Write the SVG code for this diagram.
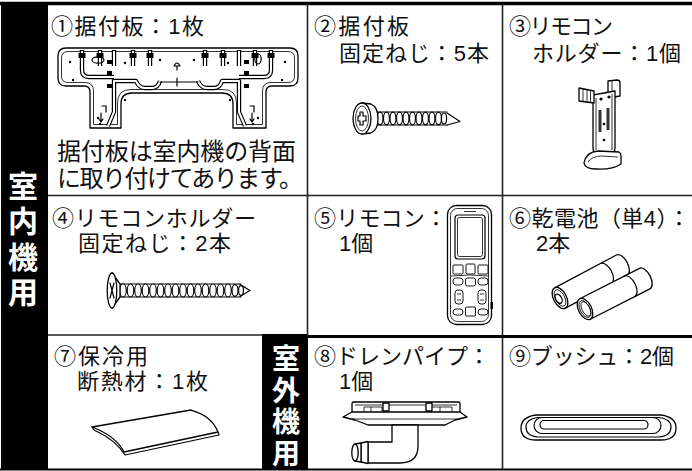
<svg xmlns="http://www.w3.org/2000/svg" width="692" height="471" viewBox="0 0 692 471">
<defs>
<style>
.t{font-family:"Liberation Sans","Noto Sans CJK JP","Noto Sans CJK SC",sans-serif;font-size:22px;fill:#111}
.b{font-size:24px}
.w{font-family:"Liberation Sans","Noto Sans CJK JP","Noto Sans CJK SC",sans-serif;fill:#fff;font-weight:bold;text-anchor:middle}
.ln{fill:none;stroke:#000;stroke-width:1.2;stroke-linejoin:round;stroke-linecap:round}
.wf{fill:#fff;stroke:#000;stroke-width:1.3;stroke-linejoin:round}
.th{fill:none;stroke:#000;stroke-width:0.8}
.btn{fill:#fff;stroke:#000;stroke-width:0.9}
.tubeA{fill:none;stroke:#000;stroke-width:4.4;stroke-linejoin:round}
.tubeB{fill:none;stroke:#fff;stroke-width:2;stroke-linejoin:round}
.grid{stroke:#222;stroke-width:1.6;fill:none}
</style>
</defs>
<rect x="0" y="0" width="692" height="471" fill="#fff"/>

<g id="connectors">
<rect x="1" y="2" width="47" height="467" fill="#000"/>
<rect x="262" y="334" width="46" height="135" fill="#000"/>
<line x1="0" y1="3.5" x2="692" y2="3.5" stroke="#000" stroke-width="3.5"/>
<line x1="0" y1="469.5" x2="692" y2="469.5" stroke="#000" stroke-width="1.8"/>
<line class="grid" x1="307.5" y1="4" x2="307.5" y2="336"/>
<line class="grid" x1="502.5" y1="4" x2="502.5" y2="469"/>
<line class="grid" x1="48" y1="195.5" x2="692" y2="195.5"/>
<line class="grid" x1="48" y1="335" x2="262" y2="335"/>
<line x1="308" y1="336.5" x2="692" y2="336.5" stroke="#000" stroke-width="3"/>
</g>

<g id="label-indoor">
<text class="w" font-size="30"><tspan x="23" y="197">室</tspan><tspan x="23" y="232">内</tspan><tspan x="23" y="268">機</tspan><tspan x="23" y="303">用</tspan></text>
</g>
<g id="label-outdoor">
<text class="w" font-size="28"><tspan x="286" y="369">室</tspan><tspan x="286" y="400.5">外</tspan><tspan x="286" y="432">機</tspan><tspan x="286" y="463.5">用</tspan></text>
</g>

<g id="item1">
<text class="t" x="51" y="34" textLength="153" lengthAdjust="spacing">①据付板：1枚</text>
<text class="t b"><tspan x="57" y="160" textLength="239" lengthAdjust="spacing">据付板は室内機の背面</tspan><tspan x="57" y="187" textLength="246" lengthAdjust="spacing">に取り付けてあります。</tspan></text>
<path class="wf" stroke-width="2.2" d="M66 48 L290 48 Q298 48 298 56 L298 78 Q298 86 290 86 L272 86 Q266 86 266 92 L266 128 L233 128 L233 104 Q233 93 222 93 L132 93 Q121 93 121 104 L121 128 L90 128 L90 92 Q90 86 84 86 L66 86 Q58 86 58 78 L58 56 Q58 48 66 48 Z"/>
<path class="th" d="M68 51.5 L288 51.5 Q294.5 51.5 294.5 58 L294.5 76 Q294.5 82.5 288 82.5 L271 82.5 Q262.5 82.5 262.5 91 L262.5 124.5 L236.5 124.5 L236.5 103 Q236.5 89.5 223 89.5 L131 89.5 Q117.5 89.5 117.5 103 L117.5 124.5 L93.5 124.5 L93.5 91 Q93.5 82.5 85 82.5 L68 82.5 Q61.5 82.5 61.5 76 L61.5 58 Q61.5 51.5 68 51.5 Z"/>
<g>
<path class="tubeA" d="M108 126 L114 112 L114 81 L136 81 Q139 88 145 88 L152 88 Q158 88 160 81 M198 81 Q201 88 207 88 L214 88 Q220 88 222 81 L239 81 L239 112 L245 126"/>
<path class="tubeA" d="M82 50 L82 70 Q82 77 89 77 L114 77 M271 50 L271 70 Q271 77 264 77 L239 77"/>
<path class="tubeA" d="M100 50 L100 66 M133 50 L133 66 M150 50 L150 66 M205 50 L205 66 M223 50 L223 66 M255 50 L255 66 M114 50 L114 66 M239 50 L239 66"/>
<path class="tubeB" d="M108 126 L114 112 L114 81 L136 81 Q139 88 145 88 L152 88 Q158 88 160 81 M198 81 Q201 88 207 88 L214 88 Q220 88 222 81 L239 81 L239 112 L245 126"/>
<path class="tubeB" d="M82 51 L82 70 Q82 77 89 77 L114 77 M271 51 L271 70 Q271 77 264 77 L239 77"/>
<path class="tubeB" d="M100 51 L100 66 M133 51 L133 66 M150 51 L150 66 M205 51 L205 66 M223 51 L223 66 M255 51 L255 66 M114 51 L114 66 M239 51 L239 66"/>
<line class="ln" x1="160" y1="82" x2="198" y2="82" stroke-width="1.4"/>
<line class="ln" x1="177" y1="78" x2="177" y2="86" stroke-width="1.4"/>
<g fill="#000">
<rect x="78.5" y="53" width="7" height="5"/><rect x="96.5" y="53" width="7" height="5"/><rect x="129.5" y="53" width="7" height="5"/><rect x="146.5" y="53" width="7" height="5"/>
<rect x="201.5" y="53" width="7" height="5"/><rect x="219.5" y="53" width="7" height="5"/><rect x="251.5" y="53" width="7" height="5"/><rect x="267.5" y="53" width="7" height="5"/>
<rect x="107" y="60" width="5" height="4"/><rect x="107" y="71" width="5" height="4"/><rect x="107" y="84" width="5" height="4"/>
<rect x="244" y="60" width="5" height="4"/><rect x="244" y="71" width="5" height="4"/><rect x="244" y="84" width="5" height="4"/>
<circle cx="70" cy="62" r="1.2"/><circle cx="73" cy="80" r="1.2"/><circle cx="125" cy="63" r="1.2"/><circle cx="160" cy="60" r="1.2"/>
<circle cx="194" cy="60" r="1.2"/><circle cx="228" cy="63" r="1.2"/><circle cx="285" cy="62" r="1.2"/><circle cx="282" cy="80" r="1.2"/>
<circle cx="98" cy="118" r="1.2"/><circle cx="100" cy="124" r="1.2"/><circle cx="258" cy="118" r="1.2"/><circle cx="253" cy="124" r="1.2"/>
<circle cx="125" cy="100" r="1.2"/><circle cx="230" cy="100" r="1.2"/>
</g>
<ellipse class="ln" cx="98" cy="60" rx="6" ry="3.2"/>
<ellipse class="ln" cx="258" cy="59" rx="3.2" ry="5"/>
<path class="ln" d="M174 66 Q177 60 180 66 Z M177 66 L177 70"/>
<path class="ln" d="M102 106 L106 106 L106 112 M101 113 L101 122 M99 119 L101 122 L103 119"/>
<path class="ln" d="M250 106 L254 106 L254 112 M252 113 L252 122 M250 119 L252 122 L254 119"/>
</g>
</g>

<g id="item2">
<text class="t"><tspan x="314" y="34" textLength="95" lengthAdjust="spacing">②据付板</tspan><tspan x="339" y="61" textLength="150" lengthAdjust="spacing">固定ねじ：5本</tspan></text>
<path class="ln" d="M447 113 L460 121.5 L447 125"/>
<g class="ln" stroke-width="1">
<path d="M376 112 L447 112 M376 125 L447 125"/>
<ellipse cx="380" cy="118.5" rx="3" ry="6.3" fill="#fff"/>
<ellipse cx="386.5" cy="118.5" rx="3" ry="6.3" fill="#fff"/>
<ellipse cx="393" cy="118.5" rx="3" ry="6.3" fill="#fff"/>
<ellipse cx="399.5" cy="118.5" rx="3" ry="6.3" fill="#fff"/>
<ellipse cx="406" cy="118.5" rx="3" ry="6.3" fill="#fff"/>
<ellipse cx="412.5" cy="118.5" rx="3" ry="6.3" fill="#fff"/>
<ellipse cx="419" cy="118.5" rx="3" ry="6.3" fill="#fff"/>
<ellipse cx="425.5" cy="118.5" rx="3" ry="6.3" fill="#fff"/>
<ellipse cx="432" cy="118.5" rx="3" ry="6.3" fill="#fff"/>
<ellipse cx="438.5" cy="118.5" rx="3" ry="6.3" fill="#fff"/>
<ellipse cx="444" cy="118.5" rx="2.6" ry="5.5" fill="#fff"/>
</g>
<path class="wf" d="M362 103 L371 104 Q378 107 378 118.5 Q378 130 371 133 L362 134 Z"/>
<ellipse class="wf" cx="362" cy="118.5" rx="9" ry="15.5"/>
<ellipse class="th" cx="362" cy="118.5" rx="6.5" ry="12.5"/>
<path class="ln" stroke-width="1" d="M360 112 L363 112 L363 116 L366 116 L366 121 L363 121 L363 125 L360 125 L360 121 L358 121 L358 116 L360 116 Z"/>
</g>

<g id="item3">
<text class="t"><tspan x="509" y="34" textLength="104" lengthAdjust="spacing">③リモコン</tspan><tspan x="532" y="61" textLength="149" lengthAdjust="spacing">ホルダー：1個</tspan></text>
<path class="wf" d="M608 81 L617 80 Q620 80 620 83 L620 96 L608 98 Z"/>
<line class="th" x1="612" y1="81" x2="612" y2="97"/>
<path class="wf" d="M593 95 L615 91 L615 148 Q615 154 609 154 L599 154 Q593 154 593 148 Z"/>
<path class="th" d="M596 98 L596 150 M612 94 L612 150"/>
<path class="wf" d="M579 88 L594 91 L594 103 L579 101 Z"/>
<path class="th" d="M583 89 L583 101.5 M587 90 L587 102 M590.5 90.5 L590.5 102.5"/>
<rect x="598.5" y="110" width="3" height="22" fill="#333"/>
<rect x="606.5" y="108" width="3" height="22" fill="#333"/>
<circle cx="601" cy="99" r="1.6" fill="#000"/><circle cx="609" cy="97" r="1.6" fill="#000"/>
<circle cx="604" cy="124" r="1.3" fill="#000"/><circle cx="604" cy="140" r="1.3" fill="#000"/>
<path class="wf" d="M584 163 Q586 152 598 151 L619 152 Q621 153 621 156 L621 164 Q612 170 596 169 Q585 169 584 163 Z"/>
<path class="th" d="M588 162 Q592 156 602 156 L618 157"/>
</g>

<g id="item4">
<text class="t"><tspan x="52" y="226" textLength="204" lengthAdjust="spacing">④リモコンホルダー</tspan><tspan x="78" y="251" textLength="153" lengthAdjust="spacing">固定ねじ：2本</tspan></text>
<path class="ln" d="M240 284.5 L250 290.5 L240 296.5"/>
<g class="ln" stroke-width="1">
<path d="M120 284 L241 284 M120 297 L241 297"/>
<ellipse cx="123" cy="290.5" rx="3.3" ry="6.5" fill="#fff"/>
<ellipse cx="130.5" cy="290.5" rx="3.3" ry="6.5" fill="#fff"/>
<ellipse cx="138" cy="290.5" rx="3.3" ry="6.5" fill="#fff"/>
<ellipse cx="145.5" cy="290.5" rx="3.3" ry="6.5" fill="#fff"/>
<ellipse cx="153" cy="290.5" rx="3.3" ry="6.5" fill="#fff"/>
<ellipse cx="160.5" cy="290.5" rx="3.3" ry="6.5" fill="#fff"/>
<ellipse cx="168" cy="290.5" rx="3.3" ry="6.5" fill="#fff"/>
<ellipse cx="175.5" cy="290.5" rx="3.3" ry="6.5" fill="#fff"/>
<ellipse cx="183" cy="290.5" rx="3.3" ry="6.5" fill="#fff"/>
<ellipse cx="190.5" cy="290.5" rx="3.3" ry="6.5" fill="#fff"/>
<ellipse cx="198" cy="290.5" rx="3.3" ry="6.5" fill="#fff"/>
<ellipse cx="205.5" cy="290.5" rx="3.3" ry="6.5" fill="#fff"/>
<ellipse cx="213" cy="290.5" rx="3.3" ry="6.5" fill="#fff"/>
<ellipse cx="220.5" cy="290.5" rx="3.3" ry="6.5" fill="#fff"/>
<ellipse cx="228" cy="290.5" rx="3.3" ry="6.5" fill="#fff"/>
<ellipse cx="235" cy="290.5" rx="3" ry="5.8" fill="#fff"/>
<ellipse cx="241" cy="290.5" rx="2.4" ry="4.8" fill="#fff"/>
</g>
<path class="wf" d="M112 273 L120 284 L120 297 L112 308 Z"/>
<ellipse class="wf" cx="112" cy="290.5" rx="4.8" ry="17.5"/>
<path class="ln" stroke-width="1" d="M110 283 L114 298 M114 283 L110 298"/>
</g>

<g id="item5">
<text class="t"><tspan x="314" y="226" textLength="133" lengthAdjust="spacing">⑤リモコン：</tspan><tspan x="339" y="251">1個</tspan></text>
<rect class="wf" x="447.5" y="205.5" width="44" height="119" rx="9" stroke-width="1.6"/>
<rect class="th" x="450.5" y="208.5" width="38" height="113" rx="7"/>
<line class="th" x1="464" y1="211.5" x2="476" y2="211.5"/>
<rect class="ln" x="455" y="215" width="30" height="44" rx="3"/>
<rect class="th" x="457.5" y="217.5" width="25" height="39" rx="2"/>
<rect class="btn" x="453" y="265" width="10" height="9" rx="1"/><rect class="btn" x="466" y="264" width="9" height="10" rx="1"/><rect class="btn" x="478" y="265" width="10" height="9" rx="1"/>
<path class="th" d="M451 276 Q470 274 489 276"/>
<rect class="btn" x="453" y="278" width="10" height="7" rx="3"/><rect class="btn" x="465.5" y="278" width="10" height="8" rx="2"/><rect class="btn" x="478" y="278" width="10" height="7" rx="3"/>
<rect class="btn" x="455" y="290" width="8" height="14" rx="3"/><rect class="btn" x="478" y="290" width="8" height="14" rx="3"/>
<path class="th" d="M457 294 L461 294 M457 300 L461 300 M480 294 L484 294 M480 300 L484 300"/>
<rect class="btn" x="453" y="309" width="10" height="6" rx="3"/><rect class="btn" x="465.5" y="307" width="10" height="9" rx="1"/><rect class="btn" x="478" y="309" width="10" height="6" rx="3"/>
<rect x="490.5" y="302" width="2.5" height="7" fill="#000"/>
</g>

<g id="item6">
<text class="t"><tspan x="509" y="226" textLength="181" lengthAdjust="spacing">⑥乾電池（単4）：</tspan><tspan x="536" y="251">2本</tspan></text>
<g transform="translate(560,298) rotate(-28)">
<path class="wf" d="M0 -11.5 L70 -11.5 A6 11.5 0 0 1 70 11.5 L0 11.5 Z"/>
<path class="ln" stroke-width="1" d="M52 -11.5 A6 11.5 0 0 1 52 11.5"/>
<ellipse class="wf" cx="0" cy="0" rx="6.5" ry="11.5"/>
<ellipse class="th" cx="0" cy="0" rx="4.6" ry="9"/>
<ellipse class="wf" cx="-1.5" cy="0" rx="3" ry="5"/>
</g>
<g transform="translate(585,309) rotate(-27)">
<path class="wf" d="M0 -11.5 L67 -11.5 A6 11.5 0 0 1 67 11.5 L0 11.5 Z"/>
<path class="ln" stroke-width="1" d="M50 -11.5 A6 11.5 0 0 1 50 11.5"/>
<ellipse class="wf" cx="0" cy="0" rx="6.5" ry="11.5"/>
<ellipse class="th" cx="0" cy="0" rx="4.8" ry="9.2"/>
<ellipse class="th" cx="0.8" cy="0.3" rx="3.8" ry="7.8"/>
</g>
</g>

<g id="item7">
<text class="t"><tspan x="54" y="364" textLength="94" lengthAdjust="spacing">⑦保冷用</tspan><tspan x="77" y="389" textLength="131" lengthAdjust="spacing">断熱材：1枚</tspan></text>
<path class="wf" d="M92 427 L191 410 Q212 416 218 432 L124 452 Q116 436 92 427 Z"/>
<path class="ln" d="M92 427 L94 430 Q116 440 125 455 L219 435 L218 432"/>
</g>

<g id="item8">
<text class="t"><tspan x="314" y="364" textLength="176" lengthAdjust="spacing">⑧ドレンパイプ：</tspan><tspan x="339" y="389">1個</tspan></text>
<rect class="wf" x="352" y="402" width="108" height="11" rx="1.5"/>
<path class="th" d="M355 405 L457 405 M364 413 L364 407 L382 407 L382 413 M430 413 L430 407 L452 407 L452 413 M371 407 L371 413 M440 407 L440 413"/>
<rect class="wf" x="383" y="403" width="6" height="8"/>
<rect class="wf" x="426" y="403" width="6" height="8"/>
<path class="wf" d="M343 417 L352 412 L460 412 L467 417 L455 420 L445 425 L368 425 L355 420 Z"/>
<path class="th" d="M352 419 L460 419"/>
<path class="wf" d="M392 425 L392 442 L368 442 L368 463 L400 463 Q418 463 418 446 L418 425 Z"/>
<path class="wf" d="M368 441.5 L361 443 L361 462 L368 463.5 Z"/>
<path class="wf" d="M361 443 L355 444 L355 461 L361 462 Z"/>
<ellipse class="wf" cx="355" cy="452.5" rx="3.2" ry="8.5"/>
</g>

<g id="item9">
<text class="t" x="509" y="364" textLength="165" lengthAdjust="spacing">⑨ブッシュ：2個</text>
<path class="wf" d="M536 415 L661 415 Q676 417 676 428 Q676 440 661 440 L536 440 Q521 440 521 428 Q521 417 536 415 Z"/>
<path class="ln" d="M538 417.5 L659 417.5 Q671 419 671 427 Q671 436 659 437 L538 437 Q526 436 526 427 Q526 419 538 417.5 Z" stroke-width="1"/>
<rect class="ln" x="534" y="417.5" width="127" height="16" rx="8"/>
<rect class="ln" x="540" y="420.5" width="108" height="8.5" rx="4.2" stroke-width="1"/>
</g>
</svg>
